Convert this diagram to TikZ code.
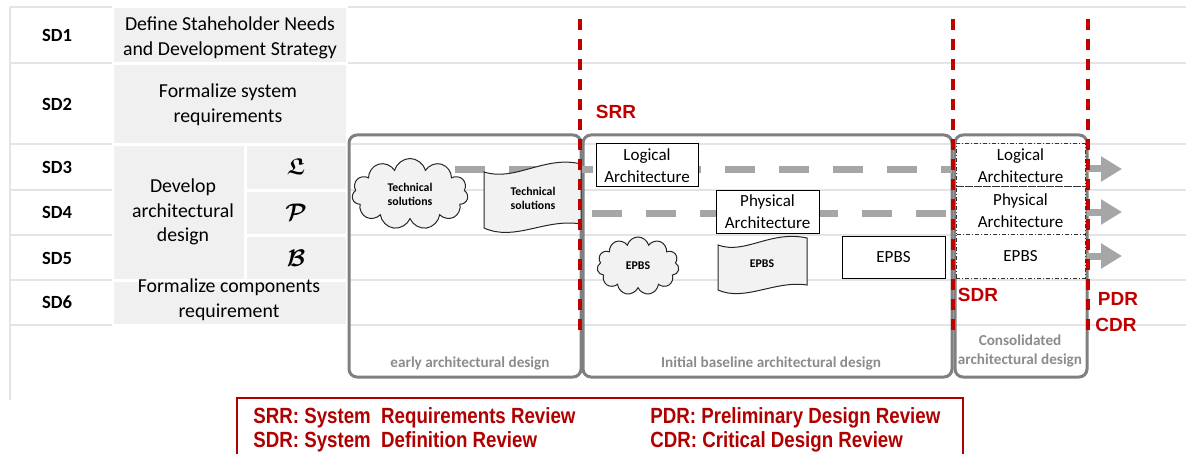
\documentclass[tikz,border=0pt]{standalone}
\usepackage{fontspec}
\usepackage{amsmath,amssymb,bm}
\setmainfont{Carlito}
\newfontfamily\revfont{Liberation Sans}
\newfontfamily\legfont{Liberation Sans}[FakeStretch=0.85]
\usetikzlibrary{shapes.symbols,arrows.meta}
\definecolor{gridc}{HTML}{E4E4E4}
\definecolor{cellc}{HTML}{F0F0F0}
\definecolor{phasec}{HTML}{808080}
\definecolor{revc}{HTML}{C00000}
\definecolor{flowc}{HTML}{A6A6A6}
\definecolor{phtxt}{HTML}{8C8C8C}
\definecolor{legred}{HTML}{B00000}
\definecolor{shapefill}{HTML}{F2F2F2}
\begin{document}
\begin{tikzpicture}[x=0.5pt,y=-0.5pt,
 gridline/.style={draw=gridc, line width=1pt},
 cellbox/.style={fill=cellc, draw=white, line width=0.8pt},
 sdlabel/.style={font=\fontsize{9.3}{11}\selectfont\bfseries},
 celltext/.style={font=\fontsize{9.9}{12.3}\selectfont, align=center, inner sep=0pt},
 symb/.style={font=\fontsize{11.5}{13}\selectfont},
 phasebox/.style={draw=phasec, line width=1.5pt, rounded corners=4pt, inner sep=0pt},
 phaselabel/.style={text=phtxt, font=\fontsize{7.6}{9.5}\selectfont\bfseries, align=center, inner sep=0pt},
 revline/.style={draw=revc, line width=1.7pt, dash pattern=on 5.5pt off 4.5pt},
 revlabel/.style={text=revc, font=\revfont\fontsize{9.5}{11}\selectfont\bfseries, inner sep=0pt},
 flowline/.style={draw=flowc, line width=3.5pt, dash pattern=on 15pt off 12pt},
 flowarrow/.style={draw=flowc, line width=3.5pt, -{Triangle[width=12pt,length=10.5pt]}},
 archbox/.style={draw=black, line width=0.5pt, fill=white, align=center, font=\fontsize{8.5}{11}\selectfont, inner sep=0pt},
 consbox/.style={draw=black!80, line width=0.5pt, fill=white, dash pattern=on 2pt off 1pt on 0.5pt off 1pt, align=center, font=\fontsize{8.5}{11}\selectfont, inner sep=0pt, minimum width=64.5pt},
 cloudnode/.style={cloud, cloud puffs=11, cloud ignores aspect, draw=black!85, line width=0.5pt, fill=shapefill, align=center, font=\fontsize{5.9}{7}\selectfont\bfseries, inner sep=0pt},
 docshape/.style={draw=black!85, line width=0.5pt, fill=shapefill},
 doctext/.style={align=center, font=\fontsize{5.9}{7}\selectfont\bfseries, inner sep=0pt},
 legtext/.style={text=legred, font=\legfont\fontsize{11}{12}\selectfont\bfseries, align=left, anchor=west, inner sep=0pt}
]
\useasboundingbox (0,0) rectangle (1186,454);
\fill[white] (0,0) rectangle (1186,454);

% ---------- grid ----------
\foreach \yy in {7,63.5,144,190,235,280,325}
  \draw[gridline] (10,\yy) -- (1186,\yy);
\draw[gridline] (10,7) -- (10,400);

% ---------- grey cells ----------
\path[cellbox] (113,7) rectangle (347,63);
\path[cellbox] (113,64) rectangle (347,144);
\path[cellbox] (113,145) rectangle (245,280);
\path[cellbox] (246,145) rectangle (347,190);
\path[cellbox] (246,191) rectangle (347,235);
\path[cellbox] (246,236) rectangle (347,280);
\path[cellbox] (113,281) rectangle (347,325);

% ---------- row labels ----------
\node[sdlabel] (sd1) at (57,35) {SD1};
\node[sdlabel] (sd2) at (57,104) {SD2};
\node[sdlabel] (sd3) at (57,167) {SD3};
\node[sdlabel] (sd4) at (57,212) {SD4};
\node[sdlabel] (sd5) at (57,258) {SD5};
\node[sdlabel] (sd6) at (57,302) {SD6};

\node[celltext] (t1) at (230,38) {Define Staheholder Needs\\and Development Strategy};
\node[celltext] (t2) at (228,105) {Formalize system\\requirements};
\node[celltext] (t3) at (183,212) {Develop\\architectural\\design};
\node[celltext] (t6) at (229,300) {Formalize components\\requirement};
\node[symb] (symL) at (296,167) {$\bm{\mathfrak{L}}$};
\node[symb] (symP) at (296,212) {$\bm{\mathcal{P}}$};
\node[symb] (symB) at (296,258) {$\bm{\mathcal{B}}$};

% ---------- phase boxes ----------
\node[phasebox, minimum width=116pt, minimum height=121pt] (early) at (465,256) {};
\node[phasebox, minimum width=184.5pt, minimum height=121pt] (initial) at (767.5,256) {};
\node[phasebox, minimum width=66pt, minimum height=121pt] (cons) at (1021,256) {};
\node[phaselabel] (earlylbl) at (470,363) {early architectural design};
\node[phaselabel] (initlbl) at (771,363) {Initial baseline architectural design};
\node[phaselabel] (conslbl) at (1020,351) {Consolidated\\architectural design};

% ---------- flow lines ----------
\coordinate (fl0) at (455,170);
\coordinate (fl1) at (952,170);
\coordinate (fp0) at (592,213);
\coordinate (fp1) at (952,213);
\draw[flowline] (fl0) -- (fl1);
\draw[flowline] (fp0) -- (fp1);

% ---------- shapes ----------
\node[cloudnode, minimum width=58pt, minimum height=35.5pt] (techcloud) at (410,194) {Technical\\solutions};
\draw[docshape] (484,172) .. controls (515,182) and (545,155) .. (581,164)
  -- (581,224) .. controls (545,218) and (515,242) .. (484,228) -- cycle;
\node[doctext] (techdoc) at (533,198) {Technical\\solutions};

\node[cloudnode, minimum width=41pt, minimum height=29pt] (epbscloud) at (638,266) {EPBS};
\draw[docshape] (718,245) .. controls (745,255) and (770,230) .. (807,238)
  -- (807,285) .. controls (775,280) and (745,302) .. (718,290) -- cycle;
\node[doctext] (epbsdoc) at (762,264) {EPBS};

\node[archbox, minimum width=51pt, minimum height=21.5pt] (logical) at (647,165.5) {Logical\\Architecture};
\node[archbox, minimum width=51.5pt, minimum height=21pt] (physical) at (767.5,212) {Physical\\Architecture};
\node[archbox, minimum width=51.5pt, minimum height=21pt] (epbsbox) at (893.5,257) {EPBS};

\node[consbox, minimum height=21.5pt] (clog) at (1020.5,165.5) {Logical\\Architecture};
\node[consbox, minimum height=23.5pt] (cphy) at (1020.5,210.5) {Physical\\Architecture};
\node[consbox, minimum height=22pt] (cepbs) at (1020.5,256) {EPBS};

% ---------- output arrows ----------
\coordinate (a1s) at (1087,169); \coordinate (a1e) at (1122,169);
\coordinate (a2s) at (1087,212); \coordinate (a2e) at (1122,212);
\coordinate (a3s) at (1087,256); \coordinate (a3e) at (1122,256);
\draw[flowarrow] (a1s) -- (a1e);
\draw[flowarrow] (a2s) -- (a2e);
\draw[flowarrow] (a3s) -- (a3e);

% ---------- review lines ----------
\coordinate (srrT) at (580,19); \coordinate (srrB) at (580,334);
\coordinate (sdrT) at (953,19); \coordinate (sdrB) at (953,334);
\coordinate (pdrT) at (1088,19); \coordinate (pdrB) at (1088,334);
\draw[revline] (srrT) -- (srrB);
\draw[revline] (sdrT) -- (sdrB);
\draw[revline] (pdrT) -- (pdrB);
\node[revlabel] (srr) at (616,112) {SRR};
\node[revlabel] (sdr) at (978,295) {SDR};
\node[revlabel] (pdr) at (1118,299) {PDR};
\node[revlabel] (cdr) at (1116,325) {CDR};

% ---------- legend ----------
\node[draw=legred, line width=0.6pt, minimum width=363pt, minimum height=31pt, inner sep=0pt] (legend) at (600,429) {};
\node[legtext] (legL) at (253,430) {SRR: System~ Requirements Review\\SDR: System~ Definition Review};
\node[legtext] (legR) at (650,430) {PDR: Preliminary Design Review\\CDR: Critical Design Review};
\end{tikzpicture}
\end{document}
